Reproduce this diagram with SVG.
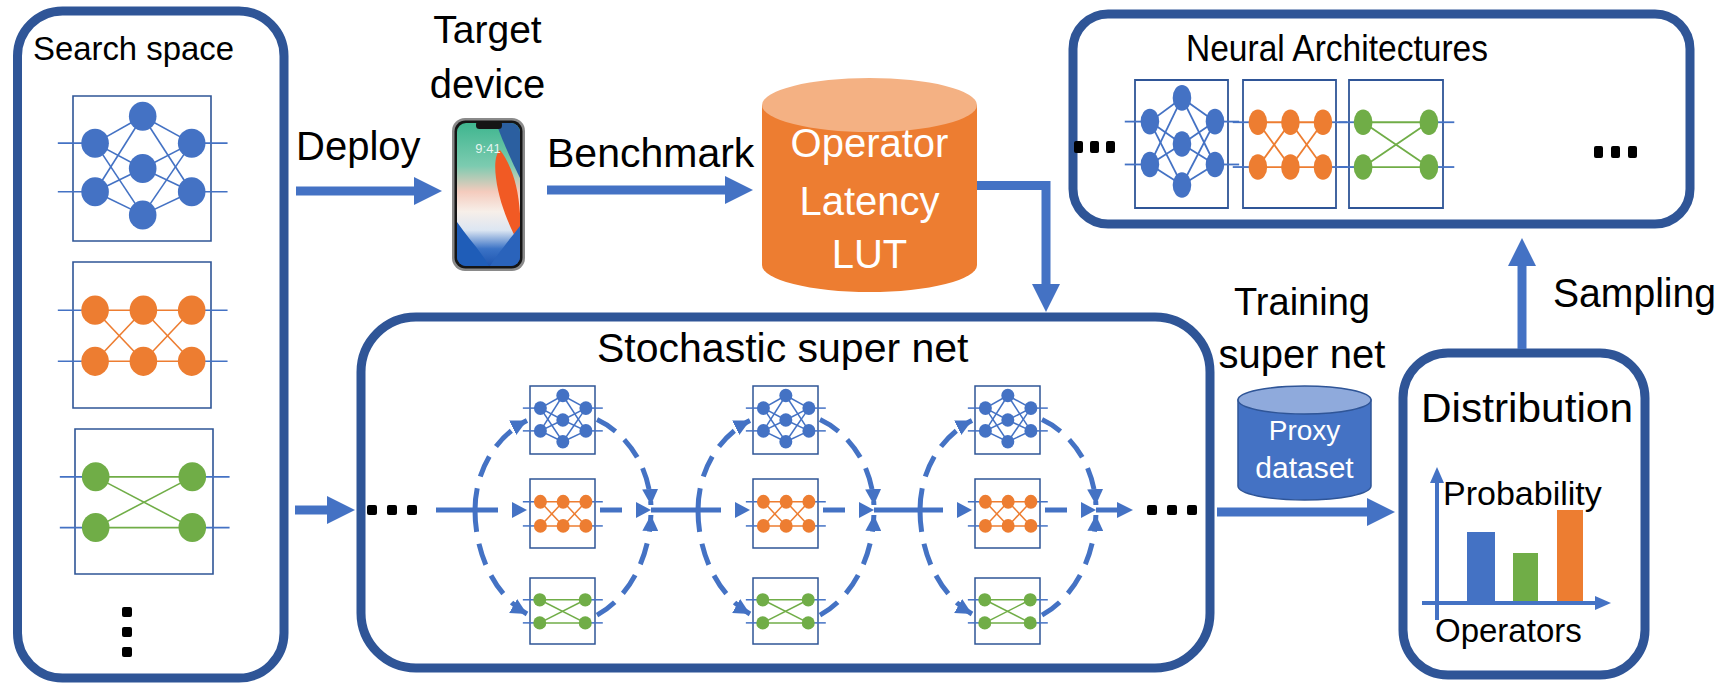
<svg xmlns="http://www.w3.org/2000/svg" xmlns:xlink="http://www.w3.org/1999/xlink" width="1726" height="684" viewBox="0 0 1726 684">
  <style>
    text { font-family: "Liberation Sans", Arial, sans-serif; fill: #000; }
    .white { fill: #fff; }
    .frame { fill: none; stroke: #2F5597; stroke-width: 9; }
    .box { fill: #fff; stroke: #2F5597; }
    .ln { vector-effect: non-scaling-stroke; }
    .stub { stroke: #4472C4; }
    .eb { stroke: #4472C4; }
    .eo { stroke: #ED7D31; }
    .eg { stroke: #70AD47; }
    .nb { fill: #4472C4; }
    .no { fill: #ED7D31; }
    .ng { fill: #70AD47; }
    .big { stroke: #4472C4; stroke-width: 9; fill: none; marker-end: url(#head); }
    .solid { stroke: #4472C4; stroke-width: 5; fill: none; }
    .dash { stroke: #4472C4; stroke-width: 5; fill: none; stroke-dasharray: 22 12; marker-end: url(#tip); }
    .tri { fill: #4472C4; }
    .dot { fill: #000; }
    .axis { stroke: #4472C4; stroke-width: 4; fill: none; marker-end: url(#axh); }
  </style>
  <defs>
    <marker id="head" viewBox="0 0 28 28" refX="0" refY="14" markerWidth="28" markerHeight="28" markerUnits="userSpaceOnUse" orient="auto">
      <path d="M0,0 L28,14 L0,28 z" fill="#4472C4"/>
    </marker>
    <marker id="tip" viewBox="0 0 16 16" refX="16" refY="8" markerWidth="16" markerHeight="16" markerUnits="userSpaceOnUse" orient="auto">
      <path d="M0,0 L16,8 L0,16 z" fill="#4472C4"/>
    </marker>
    <marker id="axh" viewBox="0 0 16 14" refX="0" refY="7" markerWidth="16" markerHeight="14" markerUnits="userSpaceOnUse" orient="auto">
      <path d="M0,0 L16,7 L0,14 z" fill="#4472C4"/>
    </marker>

    <!-- operator cells drawn in a 100 x 100 unit box, scaled per instance -->
    <g id="netB">
      <rect class="box ln" x="0" y="0" width="100" height="100"/>
      <g class="stub">
        <line class="ln" x1="-11" y1="32.5" x2="16" y2="32.5"/>
        <line class="ln" x1="-11" y1="66" x2="16" y2="66"/>
        <line class="ln" x1="86" y1="32.5" x2="112" y2="32.5"/>
        <line class="ln" x1="86" y1="66" x2="112" y2="66"/>
      </g>
      <g class="eb">
        <line class="ln" x1="16" y1="32.5" x2="50.5" y2="14"/>
        <line class="ln" x1="16" y1="32.5" x2="50.5" y2="50"/>
        <line class="ln" x1="16" y1="32.5" x2="50.5" y2="82"/>
        <line class="ln" x1="16" y1="66" x2="50.5" y2="14"/>
        <line class="ln" x1="16" y1="66" x2="50.5" y2="50"/>
        <line class="ln" x1="16" y1="66" x2="50.5" y2="82"/>
        <line class="ln" x1="86" y1="32.5" x2="50.5" y2="14"/>
        <line class="ln" x1="86" y1="32.5" x2="50.5" y2="50"/>
        <line class="ln" x1="86" y1="32.5" x2="50.5" y2="82"/>
        <line class="ln" x1="86" y1="66" x2="50.5" y2="14"/>
        <line class="ln" x1="86" y1="66" x2="50.5" y2="50"/>
        <line class="ln" x1="86" y1="66" x2="50.5" y2="82"/>
      </g>
      <g class="nb">
        <circle cx="16" cy="32.5" r="10"/>
        <circle cx="16" cy="66" r="10"/>
        <circle cx="50.5" cy="14" r="10"/>
        <circle cx="50.5" cy="50" r="10"/>
        <circle cx="50.5" cy="82" r="10"/>
        <circle cx="86" cy="32.5" r="10"/>
        <circle cx="86" cy="66" r="10"/>
      </g>
    </g>
    <g id="netO">
      <rect class="box ln" x="0" y="0" width="100" height="100"/>
      <g class="stub">
        <line class="ln" x1="-11" y1="33" x2="16" y2="33"/>
        <line class="ln" x1="-11" y1="68" x2="16" y2="68"/>
        <line class="ln" x1="86" y1="33" x2="112" y2="33"/>
        <line class="ln" x1="86" y1="68" x2="112" y2="68"/>
      </g>
      <g class="eo">
        <line class="ln" x1="16" y1="33" x2="86" y2="33"/>
        <line class="ln" x1="16" y1="68" x2="86" y2="68"/>
        <line class="ln" x1="16" y1="33" x2="51" y2="68"/>
        <line class="ln" x1="16" y1="68" x2="51" y2="33"/>
        <line class="ln" x1="51" y1="33" x2="86" y2="68"/>
        <line class="ln" x1="51" y1="68" x2="86" y2="33"/>
      </g>
      <g class="no">
        <circle cx="16" cy="33" r="10"/>
        <circle cx="51" cy="33" r="10"/>
        <circle cx="86" cy="33" r="10"/>
        <circle cx="16" cy="68" r="10"/>
        <circle cx="51" cy="68" r="10"/>
        <circle cx="86" cy="68" r="10"/>
      </g>
    </g>
    <g id="netG">
      <rect class="box ln" x="0" y="0" width="100" height="100"/>
      <g class="stub">
        <line class="ln" x1="-11" y1="33" x2="15" y2="33"/>
        <line class="ln" x1="-11" y1="68" x2="15" y2="68"/>
        <line class="ln" x1="85" y1="33" x2="112" y2="33"/>
        <line class="ln" x1="85" y1="68" x2="112" y2="68"/>
      </g>
      <g class="eg">
        <line class="ln" x1="15" y1="33" x2="85" y2="33"/>
        <line class="ln" x1="15" y1="68" x2="85" y2="68"/>
        <line class="ln" x1="15" y1="33" x2="85" y2="68"/>
        <line class="ln" x1="15" y1="68" x2="85" y2="33"/>
      </g>
      <g class="ng">
        <circle cx="15" cy="33" r="10"/>
        <circle cx="85" cy="33" r="10"/>
        <circle cx="15" cy="68" r="10"/>
        <circle cx="85" cy="68" r="10"/>
      </g>
    </g>

    <linearGradient id="screen" x1="0" y1="0" x2="0" y2="1">
      <stop offset="0" stop-color="#3FB68F"/>
      <stop offset="0.3" stop-color="#7CCBB0"/>
      <stop offset="0.48" stop-color="#F4CBBD"/>
      <stop offset="0.62" stop-color="#F7EFE9"/>
      <stop offset="0.75" stop-color="#DCE6F2"/>
      <stop offset="0.88" stop-color="#3B73C6"/>
      <stop offset="1" stop-color="#1E55B0"/>
    </linearGradient>
    <clipPath id="scr">
      <rect x="457" y="123" width="63" height="143" rx="9"/>
    </clipPath>
  </defs>

  <!-- Search space -->
  <g id="search-space">
    <rect class="frame" x="17.5" y="11" width="266.5" height="667" rx="45"/>
    <text x="33" y="60" font-size="34" textLength="201" lengthAdjust="spacingAndGlyphs">Search space</text>
    <g stroke-width="1.6">
      <use href="#netB" transform="translate(73,96) scale(1.38,1.45)"/>
      <use href="#netO" transform="translate(73,262) scale(1.38,1.46)"/>
      <use href="#netG" transform="translate(75,429) scale(1.38,1.45)"/>
    </g>
    <rect class="dot" x="122" y="607" width="10" height="10" rx="2"/>
    <rect class="dot" x="122" y="627" width="10" height="10" rx="2"/>
    <rect class="dot" x="122" y="647" width="10" height="10" rx="2"/>
  </g>

  <!-- Target device -->
  <g id="target-device">
    <text x="487.5" y="43" font-size="39" text-anchor="middle">Target</text>
    <text x="487.5" y="98" font-size="40" text-anchor="middle">device</text>
    <rect x="452" y="118" width="73" height="153" rx="13" fill="#8A8A8A"/>
    <rect x="454.5" y="120.5" width="68" height="148" rx="11" fill="#151515"/>
    <g clip-path="url(#scr)">
      <rect x="457" y="123" width="63" height="143" fill="url(#screen)"/>
      <path d="M496,123 L520,123 L520,178 C511,160 503,142 496,123 z" fill="#2B5FA0"/>
      <path d="M500,150 C514,168 522,198 520,236 L520,246 C509,226 499,202 496,178 C494,163 496,153 500,150 z" fill="#F15A24"/>
      <path d="M457,222 C468,238 480,250 489,266 L457,266 z" fill="#1F5DB8"/>
      <path d="M520,226 C506,244 497,255 490,266 L520,266 z" fill="#2A63BB"/>
    </g>
    <rect x="476" y="121" width="26" height="8" rx="3.5" fill="#151515"/>
    <text x="488" y="153" font-size="13" text-anchor="middle" class="white" fill-opacity="0.85">9:41</text>
  </g>

  <!-- Operator latency look-up table -->
  <g id="latency-lut">
    <path d="M762,105 V265 A107.5,27 0 0 0 977,265 V105 z" fill="#ED7D31"/>
    <ellipse cx="869.5" cy="105" rx="107.5" ry="27" fill="#F4B183"/>
    <text class="white" x="869.5" y="157" font-size="40" text-anchor="middle">Operator</text>
    <text class="white" x="869.5" y="215" font-size="40" text-anchor="middle">Latency</text>
    <text class="white" x="869.5" y="268" font-size="40" text-anchor="middle">LUT</text>
  </g>

  <!-- Neural architectures -->
  <g id="neural-architectures">
    <rect class="frame" x="1073" y="14" width="617" height="210" rx="35"/>
    <text x="1186" y="61" font-size="37" textLength="302" lengthAdjust="spacingAndGlyphs">Neural Architectures</text>
    <g stroke-width="1.8">
      <use href="#netB" transform="translate(1135,80) scale(0.93,1.28)"/>
      <use href="#netO" transform="translate(1243,80) scale(0.93,1.28)"/>
      <use href="#netG" transform="translate(1349,80) scale(0.94,1.28)"/>
    </g>
    <rect class="dot" x="1074" y="141" width="9" height="12" rx="2"/>
    <rect class="dot" x="1090" y="141" width="9" height="12" rx="2"/>
    <rect class="dot" x="1106" y="141" width="9" height="12" rx="2"/>
    <rect class="dot" x="1594" y="146" width="9" height="12" rx="2"/>
    <rect class="dot" x="1611" y="146" width="9" height="12" rx="2"/>
    <rect class="dot" x="1628" y="146" width="9" height="12" rx="2"/>
  </g>

  <!-- Stochastic super net -->
  <g id="super-net">
    <rect class="frame" x="361" y="317" width="849" height="351" rx="55"/>
    <text x="597" y="362" font-size="41">Stochastic super net</text>
    <g stroke-width="1.5">
      <use href="#netB" transform="translate(530,386) scale(0.65,0.68)"/>
      <use href="#netO" transform="translate(530,479) scale(0.65,0.69)"/>
      <use href="#netG" transform="translate(530,578) scale(0.65,0.66)"/>
      <use href="#netB" transform="translate(753,386) scale(0.65,0.68)"/>
      <use href="#netO" transform="translate(753,479) scale(0.65,0.69)"/>
      <use href="#netG" transform="translate(753,578) scale(0.65,0.66)"/>
      <use href="#netB" transform="translate(975,386) scale(0.65,0.68)"/>
      <use href="#netO" transform="translate(975,479) scale(0.65,0.69)"/>
      <use href="#netG" transform="translate(975,578) scale(0.65,0.66)"/>
    </g>
    <rect class="dot" x="367" y="505" width="10" height="10" rx="2"/>
    <rect class="dot" x="387" y="505" width="10" height="10" rx="2"/>
    <rect class="dot" x="407" y="505" width="10" height="10" rx="2"/>
    <rect class="dot" x="1147" y="505" width="10" height="10" rx="2"/>
    <rect class="dot" x="1167" y="505" width="10" height="10" rx="2"/>
    <rect class="dot" x="1187" y="505" width="10" height="10" rx="2"/>
  </g>

  <!-- Proxy dataset -->
  <g id="proxy-dataset">
    <path d="M1238,400 V486 A66.5,14 0 0 0 1371,486 V400 z" fill="#4472C4" stroke="#2F5597" stroke-width="1.5"/>
    <ellipse cx="1304.5" cy="400" rx="66.5" ry="14" fill="#8FAADC" stroke="#2F5597" stroke-width="1.5"/>
    <text class="white" x="1304.5" y="440" font-size="28" text-anchor="middle">Proxy</text>
    <text class="white" x="1304.5" y="478" font-size="30" text-anchor="middle">dataset</text>
  </g>

  <!-- Distribution -->
  <g id="distribution">
    <rect class="frame" x="1403" y="353" width="242" height="322" rx="45"/>
    <text x="1421" y="422" font-size="41" textLength="212" lengthAdjust="spacingAndGlyphs">Distribution</text>
    <rect x="1467" y="532" width="28" height="71" fill="#4472C4"/>
    <rect x="1513" y="553" width="25" height="50" fill="#70AD47"/>
    <rect x="1557" y="510" width="26" height="93" fill="#ED7D31"/>
    <line class="axis" x1="1437" y1="620" x2="1437" y2="483"/>
    <line class="axis" x1="1422" y1="603" x2="1595" y2="603"/>
    <text x="1443" y="505" font-size="34">Probability</text>
    <text x="1435" y="642" font-size="33">Operators</text>
  </g>

  <!-- Connectors and their labels -->
  <g id="connectors">
    <line class="big" x1="296" y1="191" x2="414" y2="191"/>
    <text x="296" y="160" font-size="40">Deploy</text>
    <line class="big" x1="547" y1="190" x2="725" y2="190"/>
    <text x="547" y="167" font-size="41">Benchmark</text>
    <path class="big" d="M977,185.5 H1046 V284"/>
    <line class="big" x1="295" y1="510" x2="327" y2="510"/>
    <line class="big" x1="1217" y1="512" x2="1367" y2="512"/>
    <text x="1302" y="315" font-size="38" text-anchor="middle">Training</text>
    <text x="1302" y="368" font-size="40" text-anchor="middle">super net</text>
    <path class="big" d="M1522,349 V266"/>
    <text x="1553" y="307" font-size="40" textLength="163" lengthAdjust="spacingAndGlyphs">Sampling</text>

    <!-- path through the super net: split, candidate ops, merge -->
    <line class="solid" x1="436" y1="510" x2="498" y2="510"/>
    <line class="solid" x1="651" y1="510" x2="721" y2="510"/>
    <line class="solid" x1="874" y1="510" x2="943" y2="510"/>
    <line class="solid" x1="1096" y1="510" x2="1118" y2="510"/>
    <polygon class="tri" points="1117,502 1133,510 1117,518"/>

    <!-- column 1 -->
    <path class="dash" d="M475,510 A88,98 0 0 1 527,420.6"/>
    <path class="dash" d="M475,510 A88,114 0 0 0 527,614"/>
    <path class="dash" d="M597,419.6 A88,98 0 0 1 650.9,505"/>
    <path class="dash" d="M597,615.1 A88,114 0 0 0 650.9,515"/>
    <polygon class="tri" points="512,502 527,510 512,518"/>
    <line class="solid" x1="600" y1="510" x2="622" y2="510"/>
    <polygon class="tri" points="636,502 651,510 636,518"/>

    <!-- column 2 -->
    <path class="dash" d="M698,510 A88,98 0 0 1 750,420.6"/>
    <path class="dash" d="M698,510 A88,114 0 0 0 750,614"/>
    <path class="dash" d="M820,419.6 A88,98 0 0 1 873.9,505"/>
    <path class="dash" d="M820,615.1 A88,114 0 0 0 873.9,515"/>
    <polygon class="tri" points="735,502 750,510 735,518"/>
    <line class="solid" x1="823" y1="510" x2="845" y2="510"/>
    <polygon class="tri" points="859,502 874,510 859,518"/>

    <!-- column 3 -->
    <path class="dash" d="M920,510 A88,98 0 0 1 972,420.6"/>
    <path class="dash" d="M920,510 A88,114 0 0 0 972,614"/>
    <path class="dash" d="M1042,419.6 A88,98 0 0 1 1095.9,505"/>
    <path class="dash" d="M1042,615.1 A88,114 0 0 0 1095.9,515"/>
    <polygon class="tri" points="957,502 972,510 957,518"/>
    <line class="solid" x1="1045" y1="510" x2="1067" y2="510"/>
    <polygon class="tri" points="1081,502 1096,510 1081,518"/>
  </g>
</svg>
